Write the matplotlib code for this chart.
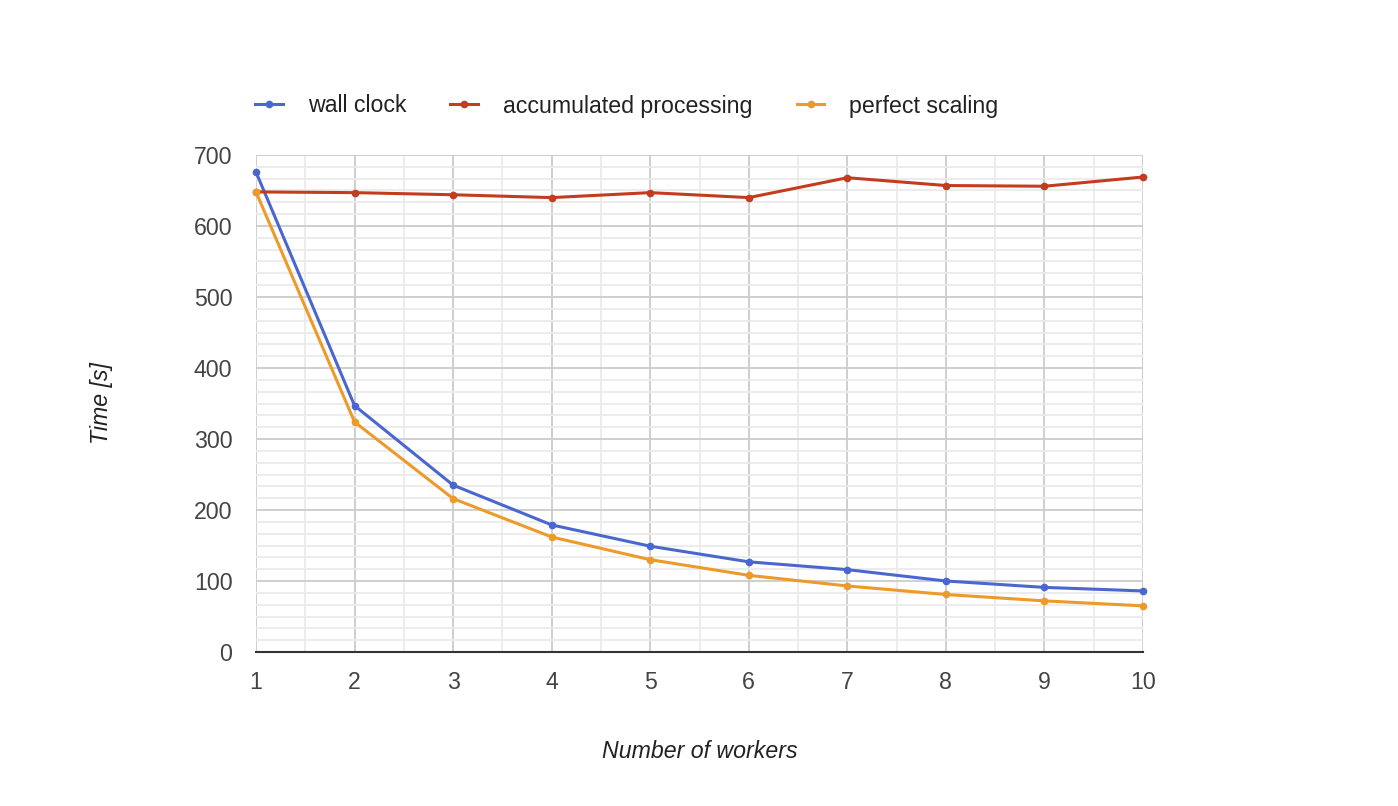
import matplotlib
matplotlib.use("Agg")
import matplotlib.pyplot as plt
from matplotlib.ticker import MultipleLocator

workers = [1, 2, 3, 4, 5, 6, 7, 8, 9, 10]
wall_clock = [676, 347, 235, 179, 149, 127, 116, 100, 91, 86]
accumulated = [648, 647, 644, 640, 647, 640, 668, 657, 656, 669]
perfect = [648, 324, 216, 162, 130, 108, 93, 81, 72, 65]
series_names = ["wall clock", "accumulated processing", "perfect scaling"]
colors = ["#4a67d0", "#c33c1e", "#ec9a29"]

plt.rcParams['font.family'] = ['Liberation Sans', 'DejaVu Sans']

fig = plt.figure(figsize=(13.98, 8.06), dpi=100)
ax = fig.add_axes([256/1398, 1-652/806, (1143-256)/1398, (652-155)/806])

for vals, name, c in zip([wall_clock, accumulated, perfect], series_names, colors):
    ax.plot(workers, vals, color=c, lw=2.2, marker='o', markersize=4.5, label=name,
            solid_joinstyle='round', zorder=3, clip_on=False)

ax.set_xlim(1, 10)
ax.set_ylim(0, 700)
ax.xaxis.set_major_locator(MultipleLocator(1))
ax.xaxis.set_minor_locator(MultipleLocator(0.5))
ax.yaxis.set_major_locator(MultipleLocator(100))
ax.yaxis.set_minor_locator(MultipleLocator(100/6))
ax.grid(which='major', color='#cccccc', lw=1.3, zorder=0)
ax.grid(which='minor', color='#ebebeb', lw=1.3, zorder=0)
ax.set_axisbelow(True)
for s in ['top', 'right', 'left']:
    ax.spines[s].set_visible(False)
ax.spines['bottom'].set_color('#333333')
ax.spines['bottom'].set_linewidth(1.5)
ax.spines['bottom'].set_zorder(2.5)
ax.tick_params(which='both', length=0)
ax.tick_params(axis='x', labelsize=16.7, labelcolor='#444444', pad=14)
ax.tick_params(axis='y', labelsize=16.7, labelcolor='#444444', pad=17)

ax.set_xlabel("Number of workers", fontsize=16.7, style='italic', color='#222222', labelpad=33)
ax.set_ylabel("Time [s]", fontsize=16.7, style='italic', color='#222222', labelpad=58)

fig.legend(loc='center left', bbox_to_anchor=(246/1398, 1-106/806), ncol=3, frameon=False,
           fontsize=16.7, handlelength=1.2, handletextpad=1.07, columnspacing=1.9,
           borderaxespad=0, labelcolor='#222222')

fig.savefig("out.png", dpi=100)
